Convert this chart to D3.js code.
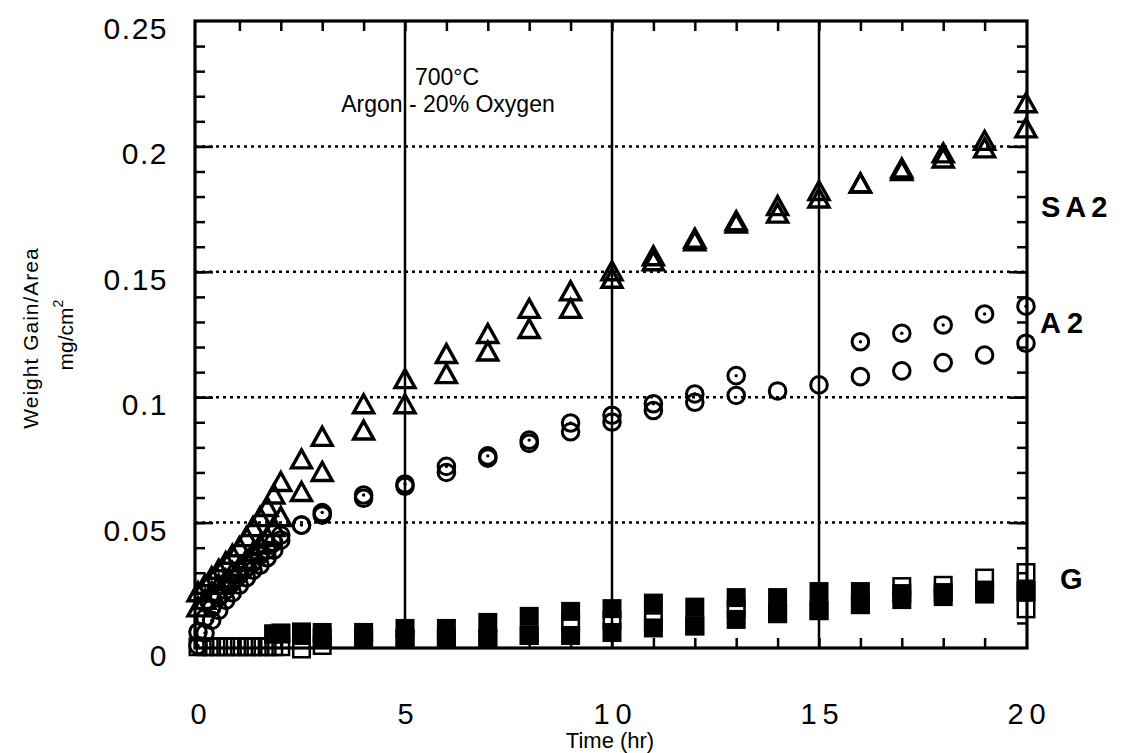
<!DOCTYPE html>
<html lang="en">
<head>
<meta charset="utf-8">
<title>Weight Gain/Area vs Time</title>
<script src="https://d3js.org/d3.v7.min.js"></script>
<style>
  body { margin: 0; background: #fff; }
  text { font-family: "Liberation Sans", Arial, sans-serif; fill: #000; }
</style>
</head>
<body>
<div id="chart"></div>
<script>
// time in hours
var times = [0, 0.17, 0.33, 0.5, 0.67, 0.83, 1, 1.17, 1.33, 1.5, 1.67, 1.83, 2, 2.5, 3,
             4, 5, 6, 7, 8, 9, 10, 11, 12, 13, 14, 15, 16, 17, 18, 19, 20];

// SA2 - triangles (two specimens)
var sa2Upper = [0.022, 0.025, 0.028, 0.031, 0.034, 0.037, 0.040, 0.044, 0.048, 0.052, 0.056, 0.061, 0.066, 0.075, 0.084,
                0.097, 0.107, 0.117, 0.125, 0.135, 0.142, 0.150, 0.156, 0.163, 0.170, 0.176, 0.182, 0.185, 0.191, 0.197, 0.202, 0.217];
var sa2Lower = [0.016, 0.019, 0.022, 0.025, 0.027, 0.030, 0.032, 0.035, 0.038, 0.041, 0.044, 0.048, 0.052, 0.062, 0.070,
                0.0865, 0.097, 0.109, 0.118, 0.127, 0.135, 0.147, 0.154, 0.162, 0.169, 0.173, 0.179, 0.185, 0.190, 0.195, 0.199, 0.207];

// A2 - circles (dotted and plain)
var a2Dot = [0.001, 0.006, 0.011, 0.015, 0.019, 0.022, 0.025, 0.028, 0.031, 0.033, 0.036, 0.039, 0.043, 0.049, 0.054,
             0.061, 0.0654, 0.0724, 0.0766, 0.0829, 0.0897, 0.0928, 0.0974, 0.1013, 0.1086, null, null, 0.1221, 0.1255, 0.1288, 0.1332, 0.1363];
var a2Plain = [0.0064, 0.012, 0.016, 0.020, 0.023, 0.026, 0.029, 0.032, 0.034, 0.037, 0.039, 0.042, 0.045, 0.049, 0.053,
               0.0597, 0.0645, 0.070, 0.0757, 0.0816, 0.0862, 0.0901, 0.0947, 0.098, 0.1007, 0.1025, 0.1049, 0.1082, 0.1105, 0.1138, 0.1168, 0.1215];

// G - squares (filled and open)
var gFillHi = [null, null, null, null, null, null, null, null, null, null, null, 0.0056, 0.006, 0.0064, 0.0062,
               0.0062, 0.0078, 0.0078, 0.0102, 0.0126, 0.0146, 0.0157, 0.0179, 0.0163, 0.0201, 0.0201, 0.0225, 0.0225, 0.0217, 0.0221, 0.0231, 0.0227];
var gFillLo = [null, null, null, null, null, null, null, null, null, null, null, 0.0056, 0.0056, 0.005, 0.0042,
               0.0038, 0.0038, 0.0038, 0.0038, 0.005, 0.005, 0.0062, 0.008, 0.0088, 0.0114, 0.0137, 0.0149, 0.0173, 0.0193, 0.0205, 0.0215, 0.0227];
var gOpen = [0.0005, 0.0005, 0.0005, 0.0005, 0.0005, 0.0005, 0.0005, 0.0005, 0.0005, 0.0005, 0.0005, 0.0005, 0.0005, -0.0004, 0.001,
             0.0038, 0.0038, 0.0038, 0.0038, 0.005, 0.0098, 0.011, 0.0105, 0.0088, 0.0157, 0.0137, 0.0149, 0.0173, 0.0245, 0.025, 0.0279, 0.0301];
var gOpen2 = [null, null, null, null, null, null, null, null, null, null, null, null, null, null, null,
              null, null, null, null, null, null, null, null, null, null, null, null, null, null, null, null, 0.0156];

var yTickValues = [0, 0.05, 0.1, 0.15, 0.2, 0.25];
var yTickLabels = ["0", "0.05", "0.1", "0.15", "0.2", "0.25"];
var xTickValues = [0, 5, 10, 15, 20];
var xTickLabels = ["0", "5", "10", "15", "20"];

var w = 1141, h = 753;
var plotLeft = 195, plotRight = 1027, plotTop = 21, plotBottom = 648;

var svg = d3.select("#chart").append("svg")
  .attr("width", w)
  .attr("height", h);

var x = d3.scaleLinear().domain([0, 20]).range([198, 1026]);
var y = d3.scaleLinear().domain([0, 0.25]).range([plotBottom, plotTop]);

// dotted horizontal grid
svg.selectAll(".grid")
  .data([0.05, 0.1, 0.15, 0.2])
  .enter().append("line")
    .attr("x1", plotLeft).attr("x2", plotRight)
    .attr("y1", d => y(d)).attr("y2", d => y(d))
    .attr("stroke", "#000")
    .attr("stroke-width", 2.5)
    .attr("stroke-dasharray", "3,4");

// solid vertical lines
svg.selectAll(".vline")
  .data([5, 10, 15])
  .enter().append("line")
    .attr("x1", d => x(d)).attr("x2", d => x(d))
    .attr("y1", plotTop).attr("y2", plotBottom)
    .attr("stroke", "#000")
    .attr("stroke-width", 2.5);

// ticks (inward)
var yMinor = d3.range(1, 25).map(d => d / 100);
var xMinor = d3.range(1, 20);

function tickAxis(axis, tx, ty, size, vals) {
  var g = svg.append("g").attr("transform", "translate(" + tx + "," + ty + ")")
    .call(axis.tickValues(vals).tickSize(size).tickFormat(""));
  g.select(".domain").remove();
  g.selectAll("line").attr("stroke-width", 2.5);
}
tickAxis(d3.axisLeft(y), plotLeft, 0, -10, yMinor);
tickAxis(d3.axisRight(y), plotRight, 0, -10, yMinor);
tickAxis(d3.axisLeft(y), plotLeft, 0, -18, [0.05, 0.1, 0.15, 0.2]);
tickAxis(d3.axisRight(y), plotRight, 0, -18, [0.05, 0.1, 0.15, 0.2]);
tickAxis(d3.axisBottom(x), 0, plotBottom, -10, xMinor);
tickAxis(d3.axisTop(x), 0, plotTop, -10, xMinor);

// frame
svg.append("rect")
  .attr("x", plotLeft).attr("y", plotTop)
  .attr("width", plotRight - plotLeft).attr("height", plotBottom - plotTop)
  .attr("fill", "none")
  .attr("stroke", "#000")
  .attr("stroke-width", 3.2);

// tick labels
var yAx = svg.append("g").attr("transform", "translate(" + plotLeft + ",0)")
  .call(d3.axisLeft(y).tickValues(yTickValues).tickSize(0).tickPadding(27)
    .tickFormat((d, i) => yTickLabels[i]));
yAx.select(".domain").remove();
yAx.selectAll("text")
  .attr("font-size", 30)
  .attr("letter-spacing", "1.5px")
  .attr("dy", "0.58em");

var xAx = svg.append("g").attr("transform", "translate(0," + plotBottom + ")")
  .call(d3.axisBottom(x).tickValues(xTickValues).tickSize(0).tickPadding(55)
    .tickFormat((d, i) => xTickLabels[i]));
xAx.select(".domain").remove();
xAx.selectAll("text")
  .attr("font-size", 29)
  .attr("letter-spacing", "6px")
  .attr("dx", "3px");

// markers
function pts(arr) {
  return times.map((t, i) => ({ t: t, v: arr[i] })).filter(d => d.v !== null);
}

var tri = "M0,-10 L10,8 L-10,8 Z";

function triangles(arr) {
  svg.append("g").selectAll("path")
    .data(pts(arr))
    .enter().append("path")
      .attr("d", tri)
      .attr("transform", d => "translate(" + x(d.t) + "," + y(d.v) + ")")
      .attr("fill", "none")
      .attr("stroke", "#000")
      .attr("stroke-width", 3.4)
      .attr("stroke-linejoin", "miter");
}

function circles(arr, dotted) {
  var g = svg.append("g").selectAll("g")
    .data(pts(arr))
    .enter().append("g")
      .attr("transform", d => "translate(" + x(d.t) + "," + y(d.v) + ")");
  g.append("circle")
    .attr("r", 8.3)
    .attr("fill", "none")
    .attr("stroke", "#000")
    .attr("stroke-width", 3);
  if (dotted) g.append("circle").attr("r", 1.7).attr("fill", "#000");
}

function squares(arr, filled) {
  var s = filled ? 19 : 16.5;
  svg.append("g").selectAll("rect")
    .data(pts(arr))
    .enter().append("rect")
      .attr("x", d => x(d.t) - s / 2)
      .attr("y", d => y(d.v) - s / 2)
      .attr("width", s).attr("height", s)
      .attr("fill", filled ? "#000" : "none")
      .attr("stroke", filled ? "none" : "#000")
      .attr("stroke-width", 2.5);
}

circles(a2Plain, false);
circles(a2Dot, true);
triangles(sa2Lower);
triangles(sa2Upper);
squares(gOpen, false);
squares(gOpen2, false);
squares(gFillLo, true);
squares(gFillHi, true);

// annotations
svg.append("text").text("700°C")
  .attr("x", 447).attr("y", 85).attr("text-anchor", "middle").attr("font-size", 23);
svg.append("text").text("Argon  -  20% Oxygen")
  .attr("x", 448).attr("y", 112).attr("text-anchor", "middle").attr("font-size", 23);

svg.append("text").text("SA2")
  .attr("x", 1041).attr("y", 217).attr("font-size", 29).attr("font-weight", "bold").attr("letter-spacing", "5px");
svg.append("text").text("A2")
  .attr("x", 1040).attr("y", 333).attr("font-size", 29).attr("font-weight", "bold").attr("letter-spacing", "6px");
svg.append("text").text("G")
  .attr("x", 1060).attr("y", 589).attr("font-size", 29).attr("font-weight", "bold");

// axis titles
svg.append("text").text("Time  (hr)")
  .attr("x", 610).attr("y", 748).attr("text-anchor", "middle").attr("font-size", 22);

svg.append("text").text("Weight  Gain/Area")
  .attr("transform", "translate(38,338) rotate(-90)")
  .attr("text-anchor", "middle").attr("font-size", 21).attr("letter-spacing", "1px");

var unit = svg.append("text")
  .attr("transform", "translate(73,335) rotate(-90)")
  .attr("text-anchor", "middle").attr("font-size", 21);
unit.append("tspan").text("mg/cm");
unit.append("tspan").text("2").attr("font-size", 14).attr("dy", -10);
</script>
</body>
</html>
